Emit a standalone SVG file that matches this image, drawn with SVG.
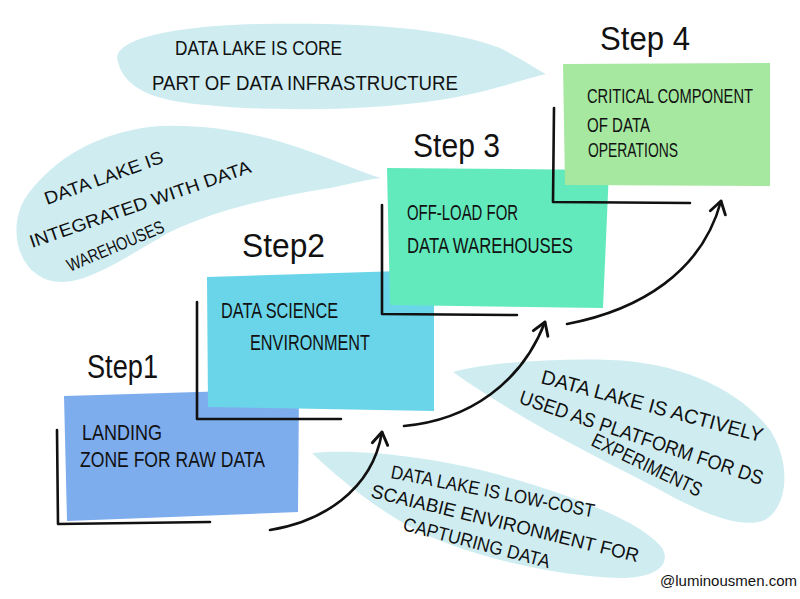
<svg xmlns="http://www.w3.org/2000/svg" width="800" height="599" viewBox="0 0 800 599">
<style>
.bubble{fill:#cfedf1;}
.bracket{fill:none;stroke:#111;stroke-width:2.6;stroke-linecap:round;stroke-linejoin:round;}
.conn{fill:none;stroke:#111;stroke-width:2.6;stroke-linecap:round;}
.t{font-family:"Liberation Sans","DejaVu Sans",sans-serif;fill:#111;}
.box{font-size:22px;}
.note{font-size:18px;}
.step{font-size:34px;}
</style>
<defs>
<marker id="ah" markerUnits="userSpaceOnUse" markerWidth="20" markerHeight="20" viewBox="-13 -9 16 18" refX="0" refY="0" orient="auto">
<path d="M-11,-7 L0,0 L-11,7" fill="none" stroke="#111" stroke-width="2.6" stroke-linecap="round" stroke-linejoin="round"/>
</marker>
</defs>
<rect width="800" height="599" fill="#ffffff"/>

<g id="note-core">
<path class="bubble" d="M118,62 C110,40 170,26 260,24 C360,22 450,28 500,48 C520,58 535,68 546,74 C520,80 490,92 440,100 C360,112 250,112 180,102 C140,96 122,80 118,62 Z"/>
<text class="t" x="175" y="55" font-size="21" textLength="167" lengthAdjust="spacingAndGlyphs">DATA LAKE IS  CORE</text>
<text class="t" x="152" y="90" font-size="21" textLength="306" lengthAdjust="spacingAndGlyphs">PART  OF  DATA  INFRASTRUCTURE</text>
</g>

<g id="note-integrated">
<path class="bubble" d="M381,178 C360,172 330,158 300,148 C260,134 210,124 160,126 C100,130 50,160 24,200 C8,230 18,270 48,280 C80,290 120,260 170,232 C220,208 280,196 330,188 C350,184 365,180 381,178 Z"/>
<text class="t note" x="47" y="205" transform="rotate(-20 47 205)" textLength="125" lengthAdjust="spacingAndGlyphs">DATA LAKE IS</text>
<text class="t note" x="32" y="248" transform="rotate(-19 32 248)" textLength="233" lengthAdjust="spacingAndGlyphs">INTEGRATED  WITH  DATA</text>
<text class="t note" x="70" y="272" transform="rotate(-23 70 272)" textLength="104" lengthAdjust="spacingAndGlyphs">WAREHOUSES</text>
</g>

<g id="note-platform">
<path class="bubble" d="M453,372 C490,362 560,358 610,360 C680,362 740,390 770,430 C790,460 790,505 765,520 C740,530 700,512 660,490 C600,458 520,420 453,372 Z"/>
<text class="t" font-size="20" x="540" y="383" transform="rotate(15 540 383)" textLength="229" lengthAdjust="spacingAndGlyphs">DATA LAKE IS ACTIVELY</text>
<text class="t" font-size="20" x="518" y="403" transform="rotate(18.7 518 403)" textLength="256" lengthAdjust="spacingAndGlyphs">USED AS PLATFORM FOR DS</text>
<text class="t" font-size="20" x="590" y="445" transform="rotate(25.7 590 445)" textLength="120" lengthAdjust="spacingAndGlyphs">EXPERIMENTS</text>
</g>

<g id="note-lowcost">
<path class="bubble" d="M312,453 C360,448 440,458 500,475 C570,495 640,520 662,548 C672,565 655,578 620,578 C560,576 480,560 420,532 C380,512 340,480 312,453 Z"/>
<text class="t" font-size="19" x="390" y="478" transform="rotate(11 390 478)" textLength="207" lengthAdjust="spacingAndGlyphs">DATA LAKE IS LOW-COST</text>
<text class="t" font-size="19" x="370" y="497" transform="rotate(13.7 370 497)" textLength="275" lengthAdjust="spacingAndGlyphs">SCAIABIE ENVIRONMENT FOR</text>
<text class="t" font-size="19" x="402" y="530" transform="rotate(14.6 402 530)" textLength="151" lengthAdjust="spacingAndGlyphs">CAPTURING DATA</text>
</g>

<g id="step1">
<polygon points="64,396 299,389 298,512 67,521" fill="#7eadee"/>
<path class="bracket" d="M57,430 L58,524 L210,522"/>
<text class="t step" x="87" y="378" textLength="71" lengthAdjust="spacingAndGlyphs">Step1</text>
<text class="t box" x="82" y="440" textLength="80" lengthAdjust="spacingAndGlyphs">LANDING</text>
<text class="t box" x="80" y="467" textLength="185" lengthAdjust="spacingAndGlyphs">ZONE FOR RAW DATA</text>
</g>

<g id="step2">
<polygon points="207,277 434,270 434,411 208,407" fill="#6ad5e9"/>
<path class="bracket" d="M197,302 L197,419 L341,419"/>
<text class="t step" x="242" y="257" textLength="83" lengthAdjust="spacingAndGlyphs">Step2</text>
<text class="t box" x="221" y="318" textLength="117" lengthAdjust="spacingAndGlyphs">DATA  SCIENCE</text>
<text class="t box" x="250" y="350" textLength="120" lengthAdjust="spacingAndGlyphs">ENVIRONMENT</text>
</g>

<g id="step3">
<polygon points="387,168 609,170 603,308 390,305" fill="#62e9bc"/>
<path class="bracket" d="M382,205 L382,314 L517,315"/>
<text class="t step" x="413" y="157" textLength="87" lengthAdjust="spacingAndGlyphs">Step 3</text>
<text class="t box" x="407" y="220" textLength="111" lengthAdjust="spacingAndGlyphs">OFF-LOAD FOR</text>
<text class="t box" x="407" y="253" textLength="166" lengthAdjust="spacingAndGlyphs">DATA  WAREHOUSES</text>
</g>

<g id="step4">
<polygon points="563,64 770,63 770,186 565,185" fill="#a6e8a0"/>
<path class="bracket" d="M554,108 L553,202 L690,203"/>
<text class="t step" x="600" y="50" textLength="90" lengthAdjust="spacingAndGlyphs">Step 4</text>
<text class="t" font-size="20" x="587" y="103" textLength="166" lengthAdjust="spacingAndGlyphs">CRITICAL  COMPONENT</text>
<text class="t" font-size="20" x="587" y="132" textLength="63" lengthAdjust="spacingAndGlyphs">OF DATA</text>
<text class="t" font-size="20" x="588" y="157" textLength="90" lengthAdjust="spacingAndGlyphs">OPERATIONS</text>
</g>

<g id="connectors">
<path class="conn" d="M270,530 C320,522 372,492 382,432" marker-end="url(#ah)"/>
<path class="conn" d="M404,426 C470,420 522,382 545,322" marker-end="url(#ah)"/>
<path class="conn" d="M567,324 C640,310 702,272 721,201" marker-end="url(#ah)"/>
</g>

<text class="t" x="660" y="586" font-size="15" textLength="137" lengthAdjust="spacingAndGlyphs">@luminousmen.com</text>
</svg>
